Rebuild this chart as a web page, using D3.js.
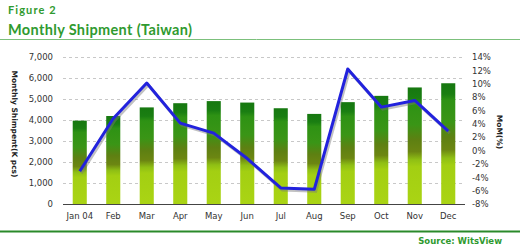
<!DOCTYPE html>
<html>
<head>
<meta charset="utf-8">
<script src="https://cdn.jsdelivr.net/npm/d3@7"></script>
<style>
  body { margin: 0; background: #fff; }
  svg { display: block; }
  .tick text { font-family: "DejaVu Sans", Verdana, sans-serif; font-size: 8.5px; fill: #333; }
</style>
</head>
<body>
<svg id="chart" width="520" height="248"></svg>
<script>
// Chart data
const months = ['Jan 04', 'Feb', 'Mar', 'Apr', 'May', 'Jun', 'Jul', 'Aug', 'Sep', 'Oct', 'Nov', 'Dec'];
const shipment = [3970, 4190, 4600, 4800, 4900, 4830, 4560, 4290, 4850, 5150, 5550, 5750];
const mom = [-3.1, 4.8, 10.1, 4.1, 2.6, -1.2, -5.6, -5.8, 12.2, 6.5, 7.5, 2.9];
const leftTicks = [0, 1000, 2000, 3000, 4000, 5000, 6000, 7000];
const rightTicks = [-8, -6, -4, -2, 0, 2, 4, 6, 8, 10, 12, 14];

const svg = d3.select('#chart');
const green = '#2f9a2f';

// Header
svg.append('text')
  .attr('x', 8).attr('y', 14)
  .attr('font-family', 'Lato, sans-serif').attr('font-weight', 'bold')
  .attr('font-size', 11).attr('fill', green).attr('letter-spacing', 1.1)
  .text('Figure 2');

svg.append('text')
  .attr('x', 8).attr('y', 35)
  .attr('font-family', 'Lato, sans-serif').attr('font-weight', 'bold')
  .attr('font-size', 14.5).attr('fill', green).attr('letter-spacing', 0.35)
  .text('Monthly Shipment (Taiwan)');

svg.append('line')
  .attr('x1', 0).attr('x2', 520).attr('y1', 39.5).attr('y2', 39.5)
  .attr('stroke', '#7cc07c').attr('stroke-width', 1);

// Footer
svg.append('line')
  .attr('x1', 0).attr('x2', 520).attr('y1', 231.5).attr('y2', 231.5)
  .attr('stroke', '#2a8a2a').attr('stroke-width', 2);

svg.append('text')
  .attr('x', 502).attr('y', 244).attr('text-anchor', 'end')
  .attr('font-family', '"DejaVu Sans", Verdana, sans-serif').attr('font-weight', 'bold')
  .attr('font-size', 8.5).attr('fill', green)
  .text('Source: WitsView');

// Scales
const plotLeft = 63, plotRight = 465, plotTop = 57, plotBottom = 204;

const x = d3.scaleBand()
  .domain(months)
  .range([plotLeft, plotRight])
  .paddingInner(0.58)
  .paddingOuter(0.29);

const y = d3.scaleLinear().domain([0, 7000]).range([plotBottom, plotTop]);
const y2 = d3.scaleLinear().domain([-8, 14]).range([plotBottom, plotTop]);

// Gradient for bars
const grad = svg.append('defs').append('linearGradient')
  .attr('id', 'barGrad')
  .attr('x1', 0).attr('y1', 0).attr('x2', 0).attr('y2', 1);
[
  [0, '#167810'], [0.09, '#1a7e12'], [0.14, '#2e9214'], [0.32, '#3a9516'],
  [0.45, '#5e8012'], [0.55, '#6c8612'], [0.62, '#8fbf14'], [0.68, '#a3cf12'], [1, '#aad414']
].forEach(([o, c]) => grad.append('stop').attr('offset', o).attr('stop-color', c));

// Gridlines
svg.append('g')
  .selectAll('line')
  .data(leftTicks.filter(d => d > 0))
  .join('line')
  .attr('x1', plotLeft).attr('x2', plotRight)
  .attr('y1', d => Math.round(y(d)) + 0.5).attr('y2', d => Math.round(y(d)) + 0.5)
  .attr('stroke', '#c8c8c8').attr('stroke-dasharray', '3,3');

// Bars
svg.append('g')
  .selectAll('rect')
  .data(shipment)
  .join('rect')
  .attr('x', (d, i) => x(months[i]))
  .attr('width', x.bandwidth())
  .attr('y', d => y(d))
  .attr('height', d => y(0) - y(d))
  .attr('fill', 'url(#barGrad)');

// Baseline
svg.append('line')
  .attr('x1', plotLeft).attr('x2', plotRight)
  .attr('y1', plotBottom + 0.5).attr('y2', plotBottom + 0.5)
  .attr('stroke', '#444').attr('stroke-width', 1.2);

// Axes
const leftAxis = svg.append('g')
  .attr('transform', `translate(${plotLeft},0)`)
  .call(d3.axisLeft(y).tickValues(leftTicks).tickFormat(d3.format(',')).tickSize(0).tickPadding(10));
leftAxis.select('.domain').remove();

const rightAxis = svg.append('g')
  .attr('transform', `translate(${plotRight},0)`)
  .call(d3.axisRight(y2).tickValues(rightTicks).tickFormat(d => d + '%').tickSize(0).tickPadding(7));
rightAxis.select('.domain').remove();

const bottomAxis = svg.append('g')
  .attr('transform', `translate(0,${plotBottom})`)
  .call(d3.axisBottom(x).tickSize(0).tickPadding(9));
bottomAxis.select('.domain').remove();

// Axis titles
svg.append('text')
  .attr('transform', 'translate(12,124) rotate(90)')
  .attr('text-anchor', 'middle')
  .attr('font-family', '"DejaVu Sans", Verdana, sans-serif').attr('font-weight', 'bold')
  .attr('font-size', 7.5).attr('fill', '#222')
  .text('Monthly Shimpent(K pcs)');

svg.append('text')
  .attr('transform', 'translate(497,132) rotate(90)')
  .attr('text-anchor', 'middle')
  .attr('font-family', '"DejaVu Sans", Verdana, sans-serif').attr('font-weight', 'bold')
  .attr('font-size', 7.5).attr('fill', '#222')
  .text('MoM(%)');

// MoM line with soft shadow
const line = d3.line()
  .x((d, i) => x(months[i]) + x.bandwidth() / 2)
  .y(d => y2(d));

svg.append('path')
  .datum(mom)
  .attr('d', line)
  .attr('transform', 'translate(1.5,2)')
  .attr('fill', 'none')
  .attr('stroke', '#777').attr('stroke-opacity', 0.45)
  .attr('stroke-width', 3);

svg.append('path')
  .datum(mom)
  .attr('d', line)
  .attr('fill', 'none')
  .attr('stroke', '#2222dd')
  .attr('stroke-width', 3)
  .attr('stroke-linejoin', 'round');
</script>
</body>
</html>
